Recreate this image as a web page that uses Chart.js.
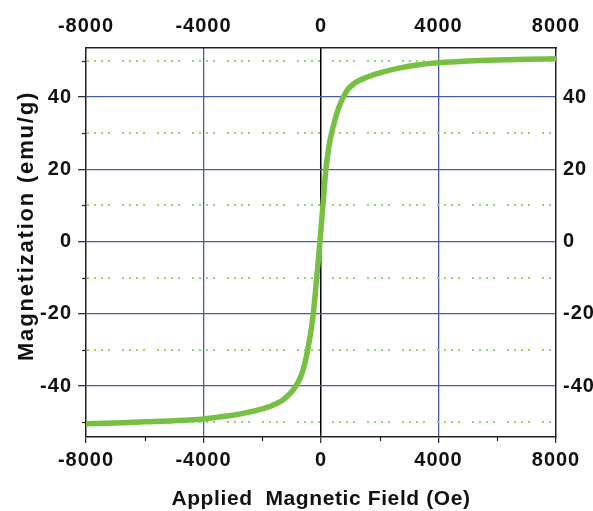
<!DOCTYPE html>
<html>
<head>
<meta charset="utf-8">
<script src="https://cdn.jsdelivr.net/npm/chart.js@4/dist/chart.umd.min.js"></script>
<style>
  html, body { margin: 0; padding: 0; background: #ffffff; }
  #wrap { width: 593px; height: 511px; }
</style>
</head>
<body>
<div id="wrap"><canvas id="c" width="593" height="511"></canvas></div>
<script>
// M-H loop: applied field (Oe) vs magnetization (emu/g)
const fieldOe = [-8000, -7000, -6000, -5000, -4000, -3500, -3000, -2500, -2000, -1700,
                 -1400, -1200, -1000, -850, -700, -600, -500, -430, -350, -260,
                 -200, -147, -90, -35, 15, 70, 130, 170, 250, 306,
                 364, 450, 534, 650, 760, 900, 1100, 1300, 1555, 1800,
                 2120, 2690, 3257, 4000, 5000, 6000, 7000, 8000];
const magnetization = [-50.4, -50.2, -49.9, -49.6, -49.1, -48.6, -48.1, -47.3, -46.3, -45.5,
                       -44.4, -43.2, -41.6, -39.9, -37.6, -35.2, -31.9, -29.0, -25.2, -19.8,
                       -14.8, -10.0, -5.0, 0.0, 5.0, 10.5, 16.8, 20.2, 25.3, 28.0,
                       30.2, 32.9, 35.4, 38.0, 40.0, 42.0, 43.6, 44.6, 45.5, 46.2,
                       47.0, 48.1, 48.9, 49.5, 50.0, 50.3, 50.5, 50.6];

const xMajorTicks = [-8000, -4000, 0, 4000, 8000];
const xMinorTicks = [-6000, -2000, 2000, 6000];
const yMajorTicks = [-40, -20, 0, 20, 40];
const yMinorTicks = [-50, -30, -10, 10, 30, 50];

const xTitle = 'Applied  Magnetic Field (Oe)';
const yTitle = 'Magnetization (emu/g)';

const FONT_FAMILY = '"Liberation Sans", Arial, Helvetica, sans-serif';
const tickFont = { family: FONT_FAMILY, size: 20, weight: 'bold' };
const BLUE = '#465cb0';
const AXIS = '#222222';
const CURVE = '#78c043';
const DOTS = '#93d46e';

const points = fieldOe.map((f, i) => ({ x: f, y: magnetization[i] }));
const asTicks = vals => vals.map(v => ({ value: v }));

// widen glyph spacing slightly for all canvas text
const spacingPlugin = {
  id: 'spacing',
  beforeLayout(chart) { chart.ctx.letterSpacing = '1px'; },
  beforeDraw(chart) { chart.ctx.letterSpacing = '1px'; }
};

// dotted minor gridlines and short minor tick marks
const minorPlugin = {
  id: 'minorMarks',
  beforeDatasetsDraw(chart) {
    const { ctx, chartArea: a, scales: { x, y } } = chart;
    ctx.save();
    ctx.strokeStyle = DOTS;
    ctx.lineWidth = 2;
    ctx.lineCap = 'butt';
    ctx.setLineDash([2, 5, 2, 5, 2, 5, 2, 12]);
    yMinorTicks.forEach(v => {
      const py = Math.round(y.getPixelForValue(v));
      ctx.beginPath();
      ctx.moveTo(a.left + 1, py);
      ctx.lineTo(a.right - 1, py);
      ctx.stroke();
    });
    ctx.setLineDash([]);
    ctx.strokeStyle = AXIS;
    ctx.lineWidth = 1.2;
    yMinorTicks.forEach(v => {
      const py = Math.round(y.getPixelForValue(v)) + 0.5;
      ctx.beginPath();
      ctx.moveTo(a.left - 4, py);
      ctx.lineTo(a.left, py);
      ctx.stroke();
    });
    xMinorTicks.forEach(v => {
      const px = Math.round(x.getPixelForValue(v)) + 0.5;
      ctx.beginPath();
      ctx.moveTo(px, a.bottom);
      ctx.lineTo(px, a.bottom + 4);
      ctx.stroke();
    });
    ctx.restore();
  }
};

// axis titles
const titlePlugin = {
  id: 'axisTitles',
  afterDraw(chart) {
    const { ctx, chartArea: a } = chart;
    ctx.save();
    ctx.fillStyle = '#111111';
    ctx.font = 'bold 21px ' + FONT_FAMILY;
    ctx.textAlign = 'center';
    ctx.textBaseline = 'middle';
    ctx.letterSpacing = '0.6px';
    ctx.fillText(xTitle, (a.left + a.right) / 2, 499);
    ctx.translate(27, 226);
    ctx.rotate(-Math.PI / 2);
    ctx.font = 'bold 22px ' + FONT_FAMILY;
    ctx.letterSpacing = '1.8px';
    ctx.fillText(yTitle, 0, 0);
    ctx.restore();
  }
};

const xGridColor = ctx => {
  const v = ctx.tick && ctx.tick.value;
  if (v === 0) return '#000000';
  if (v === -8000 || v === 8000) return 'rgba(0,0,0,0)';
  return BLUE;
};

const tickLabel = v => String(v);

new Chart(document.getElementById('c'), {
  type: 'scatter',
  data: {
    datasets: [{
      data: points,
      showLine: true,
      borderColor: CURVE,
      backgroundColor: CURVE,
      borderWidth: 5.5,
      pointRadius: 0,
      cubicInterpolationMode: 'monotone',
      borderJoinStyle: 'round',
      borderCapStyle: 'butt'
    }]
  },
  options: {
    responsive: false,
    animation: false,
    events: [],
    layout: { padding: 0 },
    plugins: { legend: { display: false }, tooltip: { enabled: false } },
    scales: {
      x: {
        type: 'linear', axis: 'x', position: 'bottom', min: -8000, max: 8000,
        afterBuildTicks: s => { s.ticks = asTicks(xMajorTicks); },
        afterFit: s => { s.height = 74; },
        grid: {
          color: xGridColor,
          lineWidth: ctx => (ctx.tick && ctx.tick.value === 0 ? 1.5 : 1.3),
          drawTicks: true, tickLength: 6, tickColor: AXIS, tickWidth: 1.2
        },
        border: { display: true, color: AXIS, width: 1.5 },
        ticks: { padding: 5, color: '#111111', font: tickFont, callback: tickLabel, maxRotation: 0, autoSkip: false }
      },
      xTop: {
        type: 'linear', axis: 'x', position: 'top', min: -8000, max: 8000,
        afterBuildTicks: s => { s.ticks = asTicks(xMajorTicks); },
        afterFit: s => { s.height = 48; },
        grid: { drawOnChartArea: false, drawTicks: false },
        border: { display: true, color: AXIS, width: 1.5 },
        ticks: { padding: 10, color: '#111111', font: tickFont, callback: tickLabel, maxRotation: 0, autoSkip: false }
      },
      y: {
        type: 'linear', axis: 'y', position: 'left', min: -54.1, max: 53.6,
        afterBuildTicks: s => { s.ticks = asTicks(yMajorTicks); },
        afterFit: s => { s.width = 86; },
        grid: {
          color: BLUE, lineWidth: 1.3,
          drawTicks: true, tickLength: 8, tickColor: AXIS, tickWidth: 1.2
        },
        border: { display: true, color: AXIS, width: 1.5 },
        ticks: { padding: 6, color: '#111111', font: tickFont, callback: tickLabel }
      },
      yRight: {
        type: 'linear', axis: 'y', position: 'right', min: -54.1, max: 53.6,
        afterBuildTicks: s => { s.ticks = asTicks(yMajorTicks); },
        afterFit: s => { s.width = 37; },
        grid: { drawOnChartArea: false, drawTicks: false },
        border: { display: true, color: AXIS, width: 1.5 },
        ticks: { padding: 7, color: '#111111', font: tickFont, callback: tickLabel }
      }
    }
  },
  plugins: [spacingPlugin, minorPlugin, titlePlugin]
});
</script>
</body>
</html>
